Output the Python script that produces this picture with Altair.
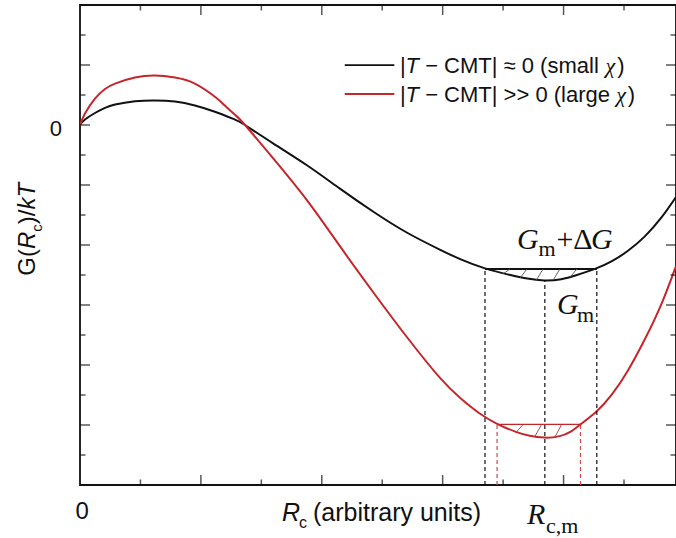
import altair as alt
import pandas as pd

# ---------------- data ----------------
black_x = [0.0, 0.041, 0.124, 0.207, 0.29, 0.455, 0.62, 0.786, 0.95, 1.116, 1.282, 1.365,
           1.60, 1.88, 2.15, 2.43, 2.71, 2.98, 3.15, 3.35, 3.56, 3.70, 3.84, 3.98, 4.11,
           4.27, 4.40, 4.53, 4.67, 4.81, 4.93]
black_y = [0.0, 0.09, 0.20, 0.285, 0.34, 0.395, 0.41, 0.39, 0.325, 0.22, 0.09, 0.0,
           -0.31, -0.675, -1.06, -1.45, -1.80, -2.08, -2.24, -2.39, -2.50, -2.56, -2.59, -2.57, -2.50,
           -2.39, -2.27, -2.10, -1.86, -1.54, -1.20]
red_x = [0.0, 0.041, 0.124, 0.207, 0.29, 0.455, 0.62, 0.786, 0.95, 1.116, 1.20, 1.282, 1.365,
         1.60, 1.88, 2.15, 2.43, 2.71, 2.98, 3.15, 3.30, 3.45, 3.60, 3.72, 3.84, 3.96, 4.06,
         4.14, 4.27, 4.40, 4.53, 4.67, 4.81, 4.93]
red_y = [0.0, 0.19, 0.44, 0.60, 0.69, 0.79, 0.825, 0.79, 0.69, 0.47, 0.32, 0.17, 0.0,
         -0.56, -1.26, -2.02, -2.80, -3.55, -4.22, -4.56, -4.80, -4.98, -5.11, -5.18, -5.21, -5.19, -5.11,
         -4.99, -4.78, -4.49, -4.10, -3.58, -2.98, -2.35]

series_names = ["|T − CMT| ≈ 0 (small χ)", "|T − CMT| >> 0 (large χ)"]

# metastable window (G_m + ΔG) for each curve
black_level = -2.40
black_left, black_right = 3.35, 4.275
black_min_x, black_min_y = 3.845, -2.59
red_level = -4.99
red_left, red_right = 3.45, 4.14

# hatch strokes (top x on level line, bottom x / y on curve)
black_hatch_top = [3.557, 3.697, 3.830, 3.970, 4.111]
black_hatch_bot_x = [3.50, 3.64, 3.775, 3.915, 4.056]
black_hatch_bot_y = [-2.48, -2.55, -2.585, -2.58, -2.53]
red_hatch_top = [3.667, 3.818, 3.984]
red_hatch_bot_x = [3.612, 3.763, 3.929]
red_hatch_bot_y = [-5.11, -5.19, -5.20]

x_major = [1, 2, 3, 4]
x_minor = [0.5, 1.5, 2.5, 3.5, 4.5]
y_major = [-5, -4, -3, -2, -1, 0, 1]
y_minor = [-5.5, -4.5, -3.5, -2.5, -1.5, -0.5, 0.5, 1.5]

X_DOM = [0, 4.93]
Y_DOM = [-6, 2]
BLACK = "#111111"
RED = "#c4262b"
RED_DASH = "#cc4a4a"

xs = alt.Scale(domain=X_DOM, nice=False, zero=False)
ys = alt.Scale(domain=Y_DOM, nice=False, zero=False)


def X(f="x"):
    return alt.X(f"{f}:Q", scale=xs, axis=None)


def Y(f="y"):
    return alt.Y(f"{f}:Q", scale=ys, axis=None)


layers = []

# curves
black_df = pd.DataFrame({"x": black_x, "y": black_y})
red_df = pd.DataFrame({"x": red_x, "y": red_y})
layers.append(alt.Chart(black_df).mark_line(color=BLACK, strokeWidth=2, interpolate="natural", clip=True)
              .encode(x=X(), y=Y()))
layers.append(alt.Chart(red_df).mark_line(color=RED, strokeWidth=2, interpolate="natural", clip=True)
              .encode(x=X(), y=Y()))

# dashed verticals
dash_black = pd.DataFrame({"x": [black_left, black_right, black_min_x],
                           "y": [Y_DOM[0]] * 3,
                           "y2": [black_level, black_level, black_min_y]})
dash_red = pd.DataFrame({"x": [red_left, red_right], "y": [Y_DOM[0]] * 2, "y2": [red_level] * 2})
layers.append(alt.Chart(dash_black).mark_rule(color=BLACK, strokeWidth=1.2, strokeDash=[4, 3])
              .encode(x=X(), y=Y(), y2="y2:Q"))
layers.append(alt.Chart(dash_red).mark_rule(color=RED_DASH, strokeWidth=1.2, strokeDash=[4, 3])
              .encode(x=X(), y=Y(), y2="y2:Q"))

# level lines
lev = pd.DataFrame({"x": [black_left], "x2": [black_right], "y": [black_level]})
layers.append(alt.Chart(lev).mark_rule(color=BLACK, strokeWidth=2.2).encode(x=X(), x2="x2:Q", y=Y()))
lev_r = pd.DataFrame({"x": [red_left], "x2": [red_right], "y": [red_level]})
layers.append(alt.Chart(lev_r).mark_rule(color=RED, strokeWidth=1.4).encode(x=X(), x2="x2:Q", y=Y()))

# hatching
hb = pd.DataFrame({"x": black_hatch_bot_x, "y": black_hatch_bot_y,
                   "x2": black_hatch_top, "y2": [black_level] * len(black_hatch_top)})
hr = pd.DataFrame({"x": red_hatch_bot_x, "y": red_hatch_bot_y,
                   "x2": red_hatch_top, "y2": [red_level] * len(red_hatch_top)})
layers.append(alt.Chart(hb).mark_rule(color="#555555", strokeWidth=0.9)
              .encode(x=X(), y=Y(), x2="x2:Q", y2="y2:Q"))
layers.append(alt.Chart(hr).mark_rule(color="#a04040", strokeWidth=0.9)
              .encode(x=X(), y=Y(), x2="x2:Q", y2="y2:Q"))

# inward ticks (half of each tick clipped away at the frame)
for vals, size in ((x_major, 20), (x_minor, 11)):
    for edge in Y_DOM:
        d = pd.DataFrame({"v": vals, "e": [edge] * len(vals)})
        layers.append(alt.Chart(d).mark_tick(orient="vertical", size=size, thickness=1.5,
                                             color=BLACK, clip=True)
                      .encode(x=X("v"), y=Y("e")))
for vals, size in ((y_major, 20), (y_minor, 11)):
    for edge in X_DOM:
        d = pd.DataFrame({"v": vals, "e": [edge] * len(vals)})
        layers.append(alt.Chart(d).mark_tick(orient="horizontal", size=size, thickness=1.5,
                                             color=BLACK, clip=True)
                      .encode(y=Y("v"), x=X("e")))

# legend samples
leg = pd.DataFrame({"x": [2.19, 2.19], "x2": [2.60, 2.60], "y": [0.997, 0.517],
                    "s": series_names})
layers.append(alt.Chart(leg).mark_rule(strokeWidth=1.8)
              .encode(x=X(), x2="x2:Q", y=Y(),
                      color=alt.Color("s:N", scale=alt.Scale(domain=series_names, range=[BLACK, RED]),
                                      legend=None)))

SANS = "Liberation Sans"
SERIF = "Liberation Serif"


def txt(rows, font, size, style="normal", align="left", angle=0):
    df = pd.DataFrame(rows, columns=["t", "x", "y"])
    kw = dict(font=font, fontSize=size, fontStyle=style, align=align,
              baseline="alphabetic", color=BLACK)
    if angle:
        kw["angle"] = angle
    return alt.Chart(df).mark_text(**kw).encode(x=X(), y=Y(), text="t:N")


# legend texts
layers.append(txt([("|", 2.647, 0.863), ("|", 2.647, 0.383)], SANS, 22))
layers.append(txt([("T", 2.693, 0.863), ("T", 2.693, 0.383)], SANS, 22, "italic"))
layers.append(txt([("− CMT| ≈ 0 (small", 2.855, 0.863),
                   ("− CMT| >> 0 (large", 2.855, 0.383)], SANS, 22))
layers.append(txt([("χ", 4.347, 0.863), ("χ", 4.435, 0.383)], SERIF, 22, "italic"))
layers.append(txt([(")", 4.443, 0.863), (")", 4.53, 0.383)], SANS, 22))

# annotations G_m + ΔG, G_m
layers.append(txt([("G", 3.614, -2.067), ("G", 4.227, -2.067), ("G", 3.945, -3.145)], SERIF, 30, "italic"))
layers.append(txt([("m", 3.792, -2.178), ("m", 4.111, -3.278)], SERIF, 22))
layers.append(txt([("+Δ", 3.941, -2.067)], SERIF, 30))

# x axis texts
layers.append(txt([("R", 3.697, -6.645)], SERIF, 30, "italic"))
layers.append(txt([("c,m", 3.854, -6.795)], SERIF, 22))
layers.append(txt([("R", 1.671, -6.595)], SANS, 25, "italic"))
layers.append(txt([("c", 1.811, -6.712)], SANS, 16))
layers.append(txt([("(arbitrary units)", 1.927, -6.595)], SANS, 25))
layers.append(txt([("0", 0.017, -6.57)], SANS, 24, align="center"))
layers.append(txt([("0", -0.199, -0.178)], SANS, 22, align="center"))

# y axis title G(R_c)/kT, rotated
layers.append(txt([("G(", -0.372, -2.512), (")/", -0.372, -1.653)], SANS, 24, angle=270))
layers.append(txt([("R", -0.372, -2.067), ("kT", -0.372, -1.408)], SANS, 24, "italic", angle=270))
layers.append(txt([("c", -0.314, -1.778)], SANS, 15, angle=270))

chart = alt.layer(*layers).properties(
    width=596, height=480,
    autosize=alt.AutoSizeParams(type="none"),
    padding={"left": 80, "top": 5, "right": 0, "bottom": 53},
    background="white",
).configure_view(stroke=BLACK, strokeWidth=1.8)

chart.save("out.html", embed_options={"renderer": "svg", "actions": False})
